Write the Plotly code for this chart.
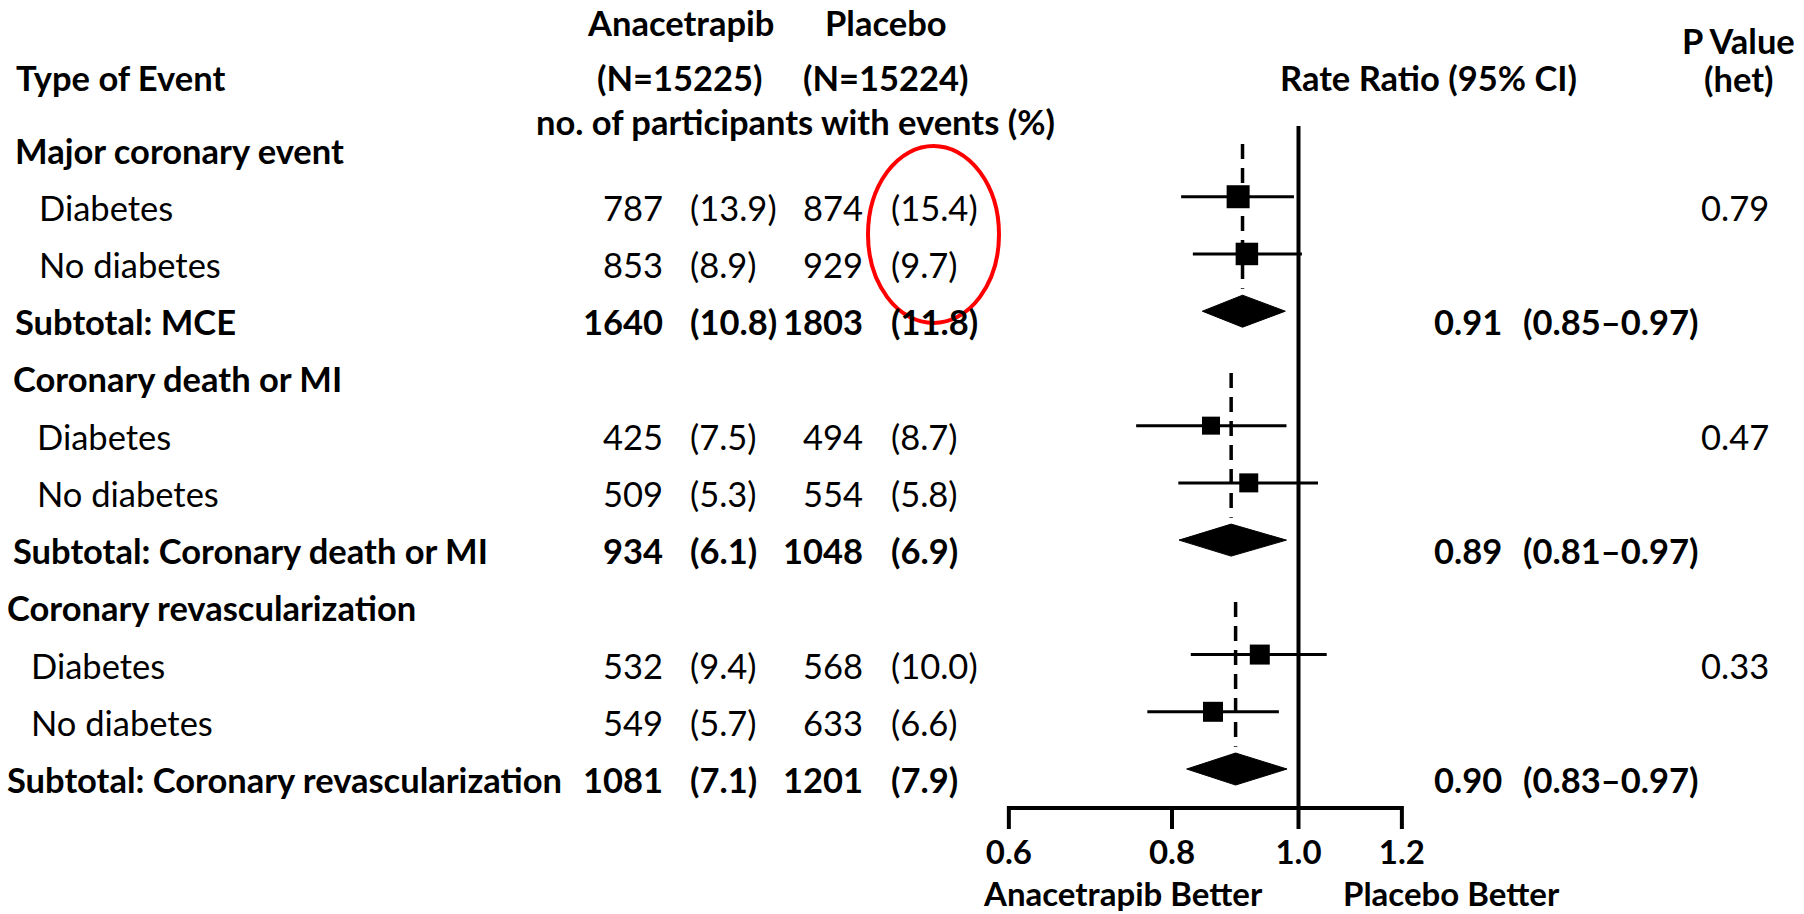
import math
import plotly.graph_objects as go

# ---------------- data ----------------
row_labels = ["Major coronary event", "Diabetes", "No diabetes", "Subtotal: MCE",
              "Coronary death or MI", "Diabetes", "No diabetes", "Subtotal: Coronary death or MI",
              "Coronary revascularization", "Diabetes", "No diabetes",
              "Subtotal: Coronary revascularization"]
row_kind = ["head", "sub", "sub", "total",
            "head", "sub", "sub", "total",
            "head", "sub", "sub", "total"]
anac_n = ["", "787", "853", "1640", "", "425", "509", "934", "", "532", "549", "1081"]
anac_pct = ["", "(13.9)", "(8.9)", "(10.8)", "", "(7.5)", "(5.3)", "(6.1)", "", "(9.4)", "(5.7)", "(7.1)"]
plac_n = ["", "874", "929", "1803", "", "494", "554", "1048", "", "568", "633", "1201"]
plac_pct = ["", "(15.4)", "(9.7)", "(11.8)", "", "(8.7)", "(5.8)", "(6.9)", "", "(10.0)", "(6.6)", "(7.9)"]

# subgroup rate ratios (squares with 95% CI)
sub_rows = [1, 2, 5, 6, 9, 10]
sub_est = [0.899, 0.913, 0.857, 0.916, 0.934, 0.860]
sub_lo = [0.813, 0.830, 0.751, 0.809, 0.827, 0.766]
sub_hi = [0.992, 1.006, 0.979, 1.035, 1.051, 0.966]

# subtotals (diamonds)
head_rows = [0, 4, 8]
tot_rows = [3, 7, 11]
tot_est = [0.906, 0.888, 0.895]
tot_lo = [0.844, 0.810, 0.821]
tot_hi = [0.977, 0.979, 0.980]
tot_est_text = ["0.91", "0.89", "0.90"]
tot_ci_text = ["(0.85\u20130.97)", "(0.81\u20130.97)", "(0.83\u20130.97)"]

# heterogeneity p values
p_rows = [1, 5, 9]
p_het = ["0.79", "0.47", "0.33"]

x_ticks = [0.6, 0.8, 1.0, 1.2]
x_tick_text = ["0.6", "0.8", "1.0", "1.2"]

# ---------------- layout helpers / styles ----------------
W, H = 1804, 914
PX_ONE, K = 1298.5, 567.0          # pixel of ratio 1.0, pixels per ln unit
ROW0, ROWH = 139.5, 57.23          # pixel of row 0 marks, row height
FONT = "Lato"
FS = 34.5
FS_AXIS = 33
box_sizes = [23, 22.5, 18, 19, 20, 20]
TEXT_SHIFT = -10.5


def ry(px):
    return (px - ROW0) / ROWH


def paper_x(px):
    return px / W


def paper_y(px):
    return 1 - px / H


xr = [(0 - PX_ONE) / K / math.log(10), (W - PX_ONE) / K / math.log(10)]
yr = [ry(H), ry(0)]

fig = go.Figure()

# vertical reference line at 1.0
fig.add_trace(go.Scatter(x=[1.0, 1.0], y=[ry(126), ry(808)], mode="lines",
                         line=dict(color="black", width=4), hoverinfo="skip"))
# axis line and ticks
fig.add_trace(go.Scatter(x=[x_ticks[0], x_ticks[-1]], y=[ry(808), ry(808)], mode="lines",
                         line=dict(color="black", width=4), hoverinfo="skip"))
tx, ty = [], []
for t in x_ticks:
    tx += [t, t, None]
    ty += [ry(806), ry(829), None]
fig.add_trace(go.Scatter(x=tx, y=ty, mode="lines", line=dict(color="black", width=4),
                         hoverinfo="skip"))
fig.add_trace(go.Scatter(x=x_ticks, y=[ry(856)] * len(x_ticks), mode="text", text=x_tick_text,
                         textposition="middle center",
                         textfont=dict(family=FONT, size=FS_AXIS, color="black", weight="bold"),
                         hoverinfo="skip"))

# dashed lines at subtotal estimates
for h, r, e in zip(head_rows, tot_rows, tot_est):
    fig.add_trace(go.Scatter(x=[e, e], y=[h + 0.08, r - 0.39], mode="lines",
                             line=dict(color="black", width=3.5, dash="15px,9px"),
                             hoverinfo="skip"))

# CI lines
cx, cy = [], []
for r, lo, hi in zip(sub_rows, sub_lo, sub_hi):
    cx += [lo, hi, None]
    cy += [r, r, None]
fig.add_trace(go.Scatter(x=cx, y=cy, mode="lines", line=dict(color="black", width=3),
                         hoverinfo="skip"))
# squares
fig.add_trace(go.Scatter(x=sub_est, y=sub_rows, mode="markers", opacity=1,
                         marker=dict(symbol="square", size=box_sizes, color="#000000",
                                     opacity=1, line=dict(width=0)), hoverinfo="skip"))
# diamonds
DH = 16 / ROWH
for r, e, lo, hi in zip(tot_rows, tot_est, tot_lo, tot_hi):
    fig.add_trace(go.Scatter(x=[lo, e, hi, e, lo], y=[r, r - DH, r, r + DH, r], mode="lines",
                             fill="toself", fillcolor="black", line=dict(color="black", width=1),
                             hoverinfo="skip"))

annotations = []


def add_text(text, x_px, y, anchor, bold=False, yref="y", shift=TEXT_SHIFT, size=FS):
    annotations.append(dict(text=text, x=paper_x(x_px), xref="paper", y=y, yref=yref,
                            xanchor=anchor, yanchor="middle", showarrow=False,
                            yshift=shift, borderpad=0,
                            font=dict(family=FONT, size=size, color="black",
                                      weight="bold" if bold else "normal")))


section_x = [14, 12, 6]
for i, lab in enumerate(row_labels):
    sec = i // 4
    kind = row_kind[i]
    bold = kind != "sub"
    lx = section_x[sec] + (24 if kind == "sub" else 0)
    add_text(lab, lx, i, "left", bold)
    if anac_n[i]:
        add_text(anac_n[i], 664, i, "right", bold)
        add_text(anac_pct[i], 689, i, "left", bold)
        add_text(plac_n[i], 864, i, "right", bold)
        add_text(plac_pct[i], 890, i, "left", bold)

for r, et, ct in zip(tot_rows, tot_est_text, tot_ci_text):
    add_text(et, 1503, r, "right", True)
    add_text(ct, 1522, r, "left", True)
for r, p in zip(p_rows, p_het):
    add_text(p, 1770, r, "right", False)

# headers
add_text("Type of Event", 15, paper_y(77), "left", True, yref="paper", shift=0)
add_text("Anacetrapib", 680, paper_y(23), "center", True, yref="paper", shift=0)
add_text("(N=15225)", 680, paper_y(77), "center", True, yref="paper", shift=0)
add_text("Placebo", 886, paper_y(23), "center", True, yref="paper", shift=0)
add_text("(N=15224)", 886, paper_y(77), "center", True, yref="paper", shift=0)
add_text("no. of participants with events (%)", 795, paper_y(121), "center", True,
         yref="paper", shift=0)
add_text("Rate Ratio (95% CI)", 1428, paper_y(77), "center", True, yref="paper", shift=0)
add_text("P Value", 1738, paper_y(40), "center", True, yref="paper", shift=0)
add_text("(het)", 1738, paper_y(78), "center", True, yref="paper", shift=0)
add_text("Anacetrapib Better", 1123, paper_y(893), "center", True, yref="paper", shift=0,
         size=FS_AXIS)
add_text("Placebo Better", 1451, paper_y(893), "center", True, yref="paper", shift=0,
         size=FS_AXIS)

shapes = [dict(type="circle", xref="paper", yref="paper",
               x0=paper_x(868), x1=paper_x(999), y0=paper_y(323), y1=paper_y(146),
               line=dict(color="red", width=4), fillcolor="rgba(0,0,0,0)")]

fig.update_layout(
    width=W, height=H, margin=dict(l=0, r=0, t=0, b=0),
    paper_bgcolor="white", plot_bgcolor="white", showlegend=False,
    xaxis=dict(type="log", range=xr, showgrid=False, zeroline=False, showticklabels=False,
               showline=False, ticks="", fixedrange=True),
    yaxis=dict(range=yr, showgrid=False, zeroline=False, showticklabels=False,
               showline=False, ticks="", fixedrange=True),
    annotations=annotations, shapes=shapes,
)

fig.write_html("out.html", config={"displayModeBar": False},
               post_script="document.body.style.margin='0';document.body.style.overflow='hidden';")
